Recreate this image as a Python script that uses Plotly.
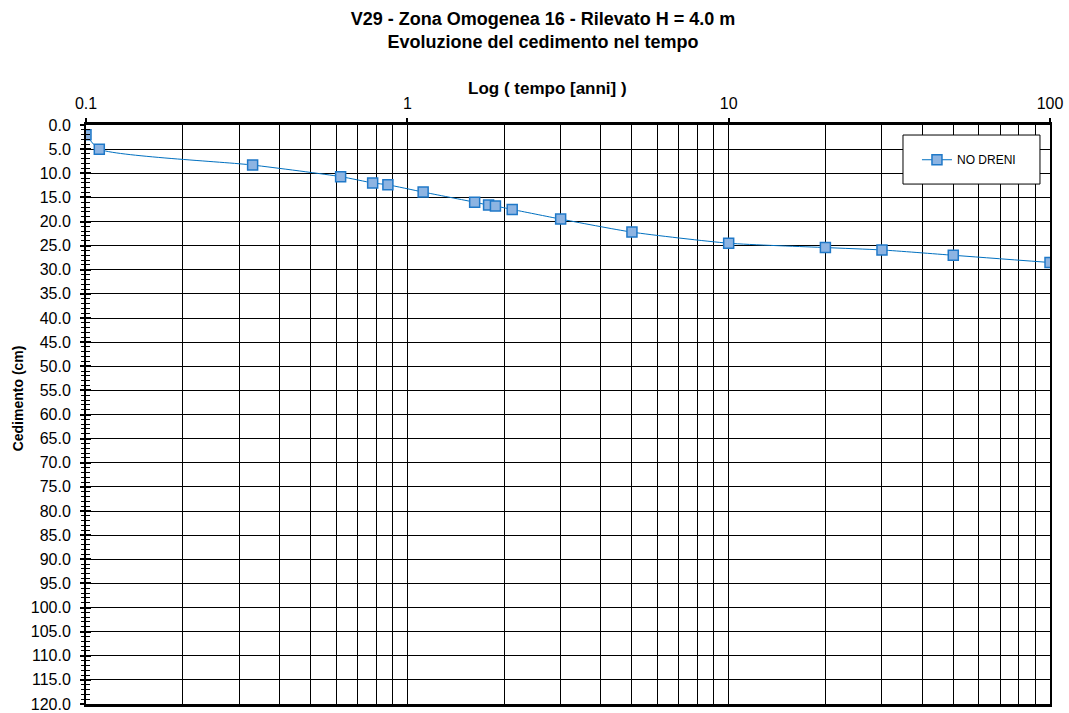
import plotly.graph_objects as go

tempo_anni = [0.1, 0.11, 0.33, 0.62, 0.78, 0.87, 1.12, 1.62, 1.79, 1.88, 2.12, 3.0, 5.0, 10, 20, 30, 50, 100]
cedimento_cm = [2.0, 5.0, 8.3, 10.7, 12.0, 12.4, 13.9, 16.0, 16.6, 16.8, 17.5, 19.5, 22.2, 24.5, 25.4, 25.9, 27.0, 28.5]
x_ticks = [0.1, 1, 10, 100]
x_tick_labels = ["0.1", "1", "10", "100"]
y_ticks = [i * 5 for i in range(25)]
y_tick_labels = [f"{v:.1f}" for v in y_ticks]
series_name = "NO DRENI"

FONT = "Liberation Sans, Arial, sans-serif"

fig = go.Figure()
fig.add_trace(go.Scatter(
    x=tempo_anni, y=cedimento_cm, name=series_name, mode="lines+markers",
    line=dict(color="#0070C0", width=1, shape="spline", smoothing=0.6),
    marker=dict(symbol="square", size=10, color="#8DB4E2", line=dict(color="#1F78C8", width=1.5)),
))
# invisible helper trace for the inward half of the y ticks
fig.add_trace(go.Scatter(x=[tempo_anni[0]], y=[cedimento_cm[0]], yaxis="y2", mode="markers",
                         marker=dict(opacity=0), showlegend=False, hoverinfo="skip"))

fig.update_layout(
    width=1069, height=713,
    margin=dict(l=86, r=19, t=125, b=9, autoexpand=False),
    paper_bgcolor="white", plot_bgcolor="white",
    font=dict(family=FONT, color="black", size=16),
    title=dict(
        text="<b>V29 - Zona Omogenea 16 - Rilevato H = 4.0 m<br>Evoluzione del cedimento nel tempo</b>",
        x=0.508, xanchor="center", y=0.965, yanchor="top",
        font=dict(family=FONT, size=18, color="black"),
    ),
    showlegend=True,
    legend=dict(
        x=0.862, y=0.940, xanchor="left", yanchor="middle",
        bgcolor="rgba(0,0,0,0)", borderwidth=0,
        font=dict(family=FONT, size=12, color="black"),
    ),
    xaxis=dict(
        type="log", range=[-1, 2], side="top", automargin=False,
        tickvals=x_ticks, ticktext=x_tick_labels,
        ticks="outside", ticklen=4, tickcolor="black", tickwidth=1.5,
        ticklabelstandoff=3,
        showline=True, linecolor="black", linewidth=2.5, mirror=True,
        showgrid=True, gridcolor="black", gridwidth=1.3,
        minor=dict(dtick="D1", showgrid=True, gridcolor="black", gridwidth=1.3, ticks=""),
        tickfont=dict(size=16), zeroline=False,
    ),
    yaxis=dict(
        range=[120, 0], tickvals=y_ticks, ticktext=y_tick_labels, automargin=False,
        ticks="outside", ticklen=4, tickcolor="black", tickwidth=1.5,
        ticklabelstandoff=6,
        showline=True, linecolor="black", linewidth=2, mirror=True,
        showgrid=True, gridcolor="black", gridwidth=1.3,
        minor=dict(dtick=1, ticks="outside", ticklen=3, tickcolor="black", tickwidth=1, showgrid=False),
        tickfont=dict(size=16), zeroline=False,
    ),
    yaxis2=dict(
        overlaying="y", side="left", range=[120, 0], tickvals=y_ticks, showticklabels=False,
        automargin=False,
        ticks="inside", ticklen=5, tickcolor="black", tickwidth=1.5,
        showgrid=False, showline=False, zeroline=False,
        minor=dict(dtick=1, ticks="inside", ticklen=4, tickcolor="black", tickwidth=1, showgrid=False),
    ),
)

# legend box
fig.add_shape(type="rect", xref="paper", yref="paper",
              x0=0.8475, x1=0.9896, y0=0.898, y1=0.9827,
              line=dict(color="black", width=1), fillcolor="white", layer="above")

fig.add_annotation(text="<b>Log ( tempo [anni] )</b>", xref="paper", yref="paper",
                   x=0.479, y=1, yshift=37, showarrow=False, xanchor="center", yanchor="middle",
                   font=dict(family=FONT, size=17, color="black"))
fig.add_annotation(text="<b>Cedimento (cm)</b>", xref="paper", yref="paper",
                   x=-0.0705, y=0.528, textangle=-90, showarrow=False,
                   xanchor="center", yanchor="middle",
                   font=dict(family=FONT, size=14, color="black"))

fig.write_html("out.html", config={"displayModeBar": False},
               post_script="document.body.style.margin='0';document.body.style.overflow='hidden';")
